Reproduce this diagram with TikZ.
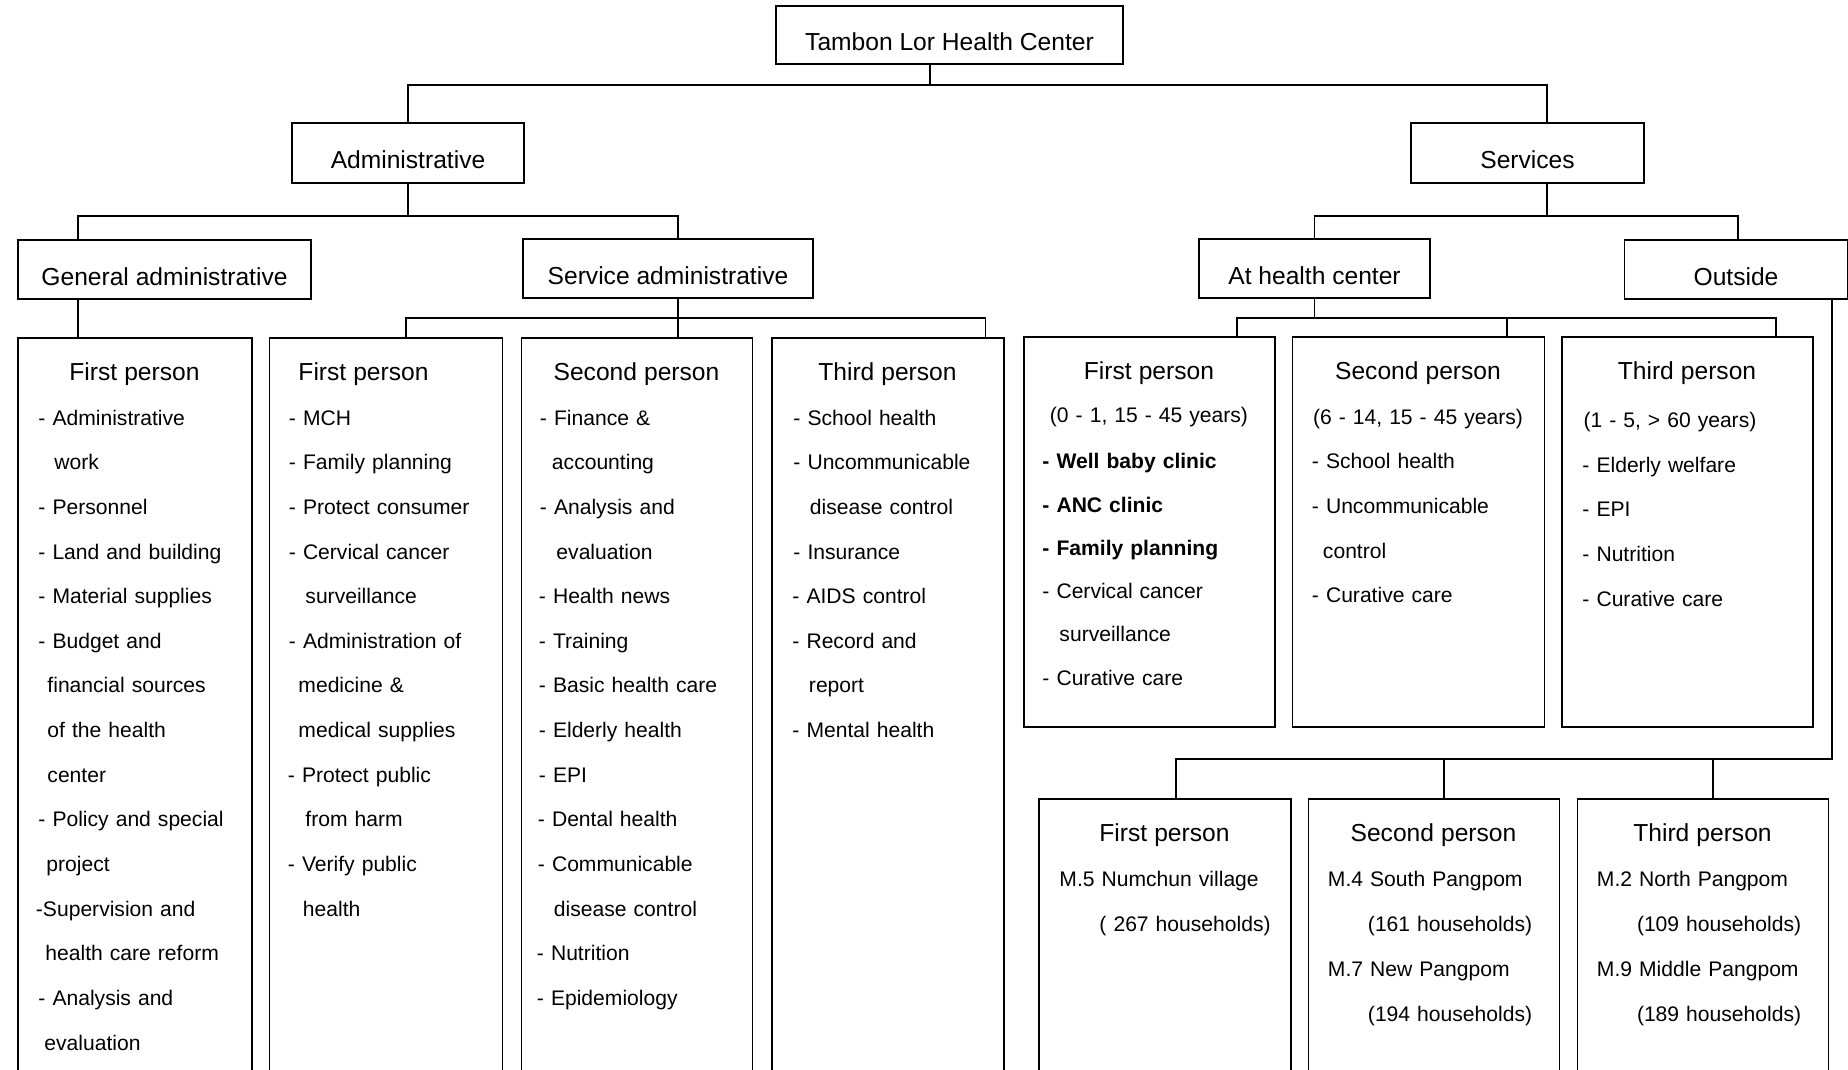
\documentclass[tikz,border=0pt]{standalone}
\usepackage{fontspec}
\setmainfont{Liberation Sans}
\usepackage{tikz}
\tikzstyle{hdr} = [rectangle, draw=black, line width=1pt, minimum height=1.18cm, inner sep=0pt, text height=18pt, text depth=0pt, text centered, font=\fontsize{14pt}{17pt}\selectfont]
\tikzstyle{colbox} = [rectangle, draw=black, line width=1pt, inner sep=0pt]
\tikzstyle{coltxt} = [anchor=north west, inner sep=0pt, align=left, font=\fontsize{12pt}{25.4pt}\selectfont]
\tikzstyle{conn} = [line width=1pt]
\newcommand{\ttl}[1]{\makebox[\hsize]{\rule{0pt}{0.86cm}\fontsize{14pt}{17pt}\selectfont #1}}
\newcommand{\ttlat}[2]{\hspace*{#1cm}\rule{0pt}{0.86cm}{\fontsize{14pt}{17pt}\selectfont #2}}
\newcommand{\pad}[1]{\hspace*{#1cm}}

\begin{document}
\begin{tikzpicture}
    \useasboundingbox (0,0) rectangle (36.96,-21.38);
    \fill [white] (0,0) rectangle (36.96,-21.38);
    \clip (0,0) rectangle (36.96,-21.38);

    \node (tambon) [hdr, minimum width=6.95cm, minimum height=1.15cm] at (18.99,-0.70) {Tambon Lor Health Center};
    \node (admin) [hdr, minimum width=4.64cm, minimum height=1.20cm] at (8.16,-3.06) {Administrative};
    \node (services) [hdr, minimum width=4.66cm, minimum height=1.20cm, right of=admin, node distance=22.39cm] {Services};
    \node (genadmin) [hdr, minimum width=5.86cm] at (3.29,-5.39) {General administrative};
    \node (servadmin) [hdr, minimum width=5.80cm] at (13.36,-5.37) {Service administrative};
    \node (athc) [hdr, minimum width=4.62cm] at (26.29,-5.37) {At health center};
    \node (outside) [hdr, minimum width=4.46cm] at (34.72,-5.39) {Outside};

    \node (gaone) [colbox, minimum width=4.68cm, minimum height=15cm] at (2.70,-14.26) {};
    \node (saone) [colbox, minimum width=4.66cm, minimum height=15cm, right of=gaone, node distance=5.02cm] {};
    \node (satwo) [colbox, minimum width=4.62cm, minimum height=15cm, right of=saone, node distance=5.02cm] {};
    \node (sathree) [colbox, minimum width=4.64cm, minimum height=15cm, right of=satwo, node distance=5.02cm] {};

    \node (hcone) [colbox, minimum width=5.02cm, minimum height=7.80cm] at (22.99,-10.64) {};
    \node (hctwo) [colbox, minimum width=5.04cm, minimum height=7.80cm, right of=hcone, node distance=5.38cm] {};
    \node (hcthree) [colbox, minimum width=5.02cm, minimum height=7.80cm, right of=hctwo, node distance=5.38cm] {};

    \node (outone) [colbox, minimum width=5.04cm, minimum height=5.82cm] at (23.30,-18.89) {};
    \node (outtwo) [colbox, minimum width=5.02cm, minimum height=5.82cm, right of=outone, node distance=5.38cm] {};
    \node (outthree) [colbox, minimum width=5.02cm, minimum height=5.82cm, right of=outtwo, node distance=5.38cm] {};

    \node (gaone-txt) [coltxt, text width=4.68cm] at (gaone.north west) {\ttl{First person}\\
        \pad{0.42}- Administrative\\
        \pad{0.74}work\\
        \pad{0.42}- Personnel\\
        \pad{0.42}- Land and building\\
        \pad{0.42}- Material supplies\\
        \pad{0.42}- Budget and\\
        \pad{0.60}financial sources\\
        \pad{0.60}of the health\\
        \pad{0.60}center\\
        \pad{0.42}- Policy and special\\
        \pad{0.58}project\\
        \pad{0.37}-Supervision and\\
        \pad{0.56}health care reform\\
        \pad{0.42}- Analysis and\\
        \pad{0.54}evaluation};
    \node (saone-txt) [coltxt, text width=4.66cm] at (saone.north west) {\ttlat{0.59}{First person}\\
        \pad{0.40}- MCH\\
        \pad{0.40}- Family planning\\
        \pad{0.40}- Protect consumer\\
        \pad{0.40}- Cervical cancer\\
        \pad{0.73}surveillance\\
        \pad{0.40}- Administration of\\
        \pad{0.59}medicine \&\\
        \pad{0.59}medical supplies\\
        \pad{0.38}- Protect public\\
        \pad{0.73}from harm\\
        \pad{0.38}- Verify public\\
        \pad{0.68}health};
    \node (satwo-txt) [coltxt, text width=4.62cm] at (satwo.north west) {\ttl{Second person}\\
        \pad{0.38}- Finance \&\\
        \pad{0.62}accounting\\
        \pad{0.38}- Analysis and\\
        \pad{0.71}evaluation\\
        \pad{0.36}- Health news\\
        \pad{0.36}- Training\\
        \pad{0.36}- Basic health care\\
        \pad{0.36}- Elderly health\\
        \pad{0.36}- EPI\\
        \pad{0.34}- Dental health\\
        \pad{0.34}- Communicable\\
        \pad{0.66}disease control\\
        \pad{0.32}- Nutrition\\
        \pad{0.32}- Epidemiology};
    \node (sathree-txt) [coltxt, text width=4.64cm] at (sathree.north west) {\ttl{Third person}\\
        \pad{0.44}- School health\\
        \pad{0.44}- Uncommunicable\\
        \pad{0.77}disease control\\
        \pad{0.44}- Insurance\\
        \pad{0.42}- AIDS control\\
        \pad{0.42}- Record and\\
        \pad{0.75}report\\
        \pad{0.42}- Mental health};

    \node (hcone-txt) [coltxt, text width=5.02cm, font=\fontsize{12pt}{24.6pt}\selectfont] at (hcone.north west) {\ttl{First person}\\
        \makebox[\hsize]{(0 - 1, 15 - 45 years)}\\[0.06cm]
        \pad{0.38}\textbf{- Well baby clinic}\\
        \pad{0.38}\textbf{- ANC clinic}\\
        \pad{0.38}\textbf{- Family planning}\\
        \pad{0.38}- Cervical cancer\\
        \pad{0.72}surveillance\\
        \pad{0.38}- Curative care};
    \node (hctwo-txt) [coltxt, text width=5.04cm] at (hctwo.north west) {\ttl{Second person}\\
        \makebox[\hsize]{(6 - 14, 15 - 45 years)}\\
        \pad{0.40}- School health\\
        \pad{0.40}- Uncommunicable\\
        \pad{0.62}control\\
        \pad{0.40}- Curative care};
    \node (hcthree-txt) [coltxt, text width=5.02cm] at (hcthree.north west) {\ttl{Third person}\\[0.07cm]
        \pad{0.44}(1 - 5, > 60 years)\\
        \pad{0.42}- Elderly welfare\\
        \pad{0.42}- EPI\\
        \pad{0.42}- Nutrition\\
        \pad{0.42}- Curative care};

    \node (outone-txt) [coltxt, text width=5.04cm, font=\fontsize{12pt}{25.6pt}\selectfont] at (outone.north west) {\ttl{First person}\\
        \pad{0.42}M.5 Numchun village\\
        \pad{1.22}( 267 households)};
    \node (outtwo-txt) [coltxt, text width=5.02cm, font=\fontsize{12pt}{25.6pt}\selectfont] at (outtwo.north west) {\ttl{Second person}\\
        \pad{0.40}M.4 South Pangpom\\
        \pad{1.20}(161 households)\\
        \pad{0.40}M.7 New Pangpom\\
        \pad{1.20}(194 households)};
    \node (outthree-txt) [coltxt, text width=5.02cm, font=\fontsize{12pt}{25.6pt}\selectfont] at (outthree.north west) {\ttl{Third person}\\
        \pad{0.40}M.2 North Pangpom\\
        \pad{1.20}(109 households)\\
        \pad{0.40}M.9 Middle Pangpom\\
        \pad{1.20}(189 households)};

    \coordinate (topjoin) at ([xshift=-0.39cm]tambon.south);
    \coordinate (topbus) at ([yshift=-0.40cm]topjoin);
    \draw [conn] (topjoin) -- (topbus);
    \draw [conn] (admin.north) |- (topbus) -| ([xshift=0.39cm]services.north);

    \coordinate (adminbus) at ([yshift=-0.64cm]admin.south);
    \coordinate (gajoin) at ([xshift=-1.73cm]genadmin.north);
    \draw [conn] (admin.south) -- (adminbus);
    \draw [conn] (gajoin) |- (adminbus) -| ([xshift=0.20cm]servadmin.north);

    \coordinate (servjoin) at ([xshift=0.39cm]services.south);
    \coordinate (servbus) at ([yshift=-0.64cm]servjoin);
    \draw [conn] (servjoin) -- (servbus);
    \draw [conn] (athc.north) |- (servbus) -| ([xshift=0.04cm]outside.north);

    \coordinate (galow) at ([xshift=-1.73cm]genadmin.south);
    \draw [conn] (galow) -- (gaone.north -| galow);

    \coordinate (sajoin) at ([xshift=0.20cm]servadmin.south);
    \coordinate (sabus) at ([yshift=-0.38cm]sajoin);
    \draw [conn] (sajoin) -- (sabus);
    \draw [conn] ([xshift=0.40cm]saone.north) |- (sabus) -| ([xshift=1.95cm]sathree.north);
    \draw [conn] (sabus) -- (satwo.north -| sabus);

    \coordinate (hcbus) at ([yshift=-0.38cm]athc.south);
    \coordinate (hctwojoin) at ([xshift=1.77cm]hctwo.north);
    \draw [conn] (athc.south) -- (hcbus);
    \draw [conn] ([xshift=1.75cm]hcone.north) |- (hcbus) -| ([xshift=1.77cm]hcthree.north);
    \draw [conn] (hctwojoin) -- (hctwojoin |- hcbus);

    \coordinate (outjoin) at ([xshift=1.92cm]outside.south);
    \coordinate (outonejoin) at ([xshift=0.22cm]outone.north);
    \coordinate (outtwojoin) at ([xshift=0.20cm]outtwo.north);
    \coordinate (outthreejoin) at ([xshift=0.20cm]outthree.north);
    \coordinate (outbus) at ([yshift=0.78cm]outonejoin);
    \draw [conn] (outjoin) |- (outbus) -- (outonejoin);
    \draw [conn] (outtwojoin) -- (outtwojoin |- outbus);
    \draw [conn] (outthreejoin) -- (outthreejoin |- outbus);
\end{tikzpicture}
\end{document}
